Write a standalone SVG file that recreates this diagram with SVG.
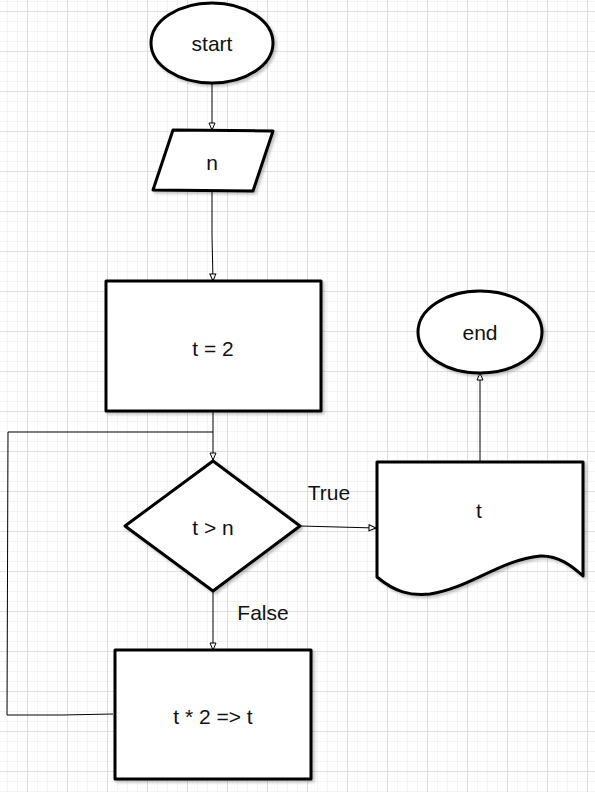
<svg xmlns="http://www.w3.org/2000/svg" width="595" height="792" viewBox="0 0 595 792">
<defs>
<pattern id="minor" x="7" y="1" width="10" height="10" patternUnits="userSpaceOnUse">
<path d="M0,0.5 H10 M0.5,0 V10" stroke="#f4f4f4" stroke-width="1" fill="none"/>
</pattern>
<pattern id="major" x="27" y="11" width="40" height="40" patternUnits="userSpaceOnUse">
<path d="M0,0.5 H40 M0.5,0 V40" stroke="#dedede" stroke-width="1" fill="none"/>
</pattern>
<marker id="arr" markerWidth="9" markerHeight="8" refX="8" refY="4" orient="auto" markerUnits="userSpaceOnUse">
<path d="M1,1 L8,4 L1,7 Z" fill="#fff" stroke="#000" stroke-width="1"/>
</marker>
<filter id="sh" x="-10%" y="-10%" width="130%" height="130%">
<feDropShadow dx="2" dy="2" stdDeviation="1.5" flood-color="#000" flood-opacity="0.25"/>
</filter>
</defs>
<style>
.shape{fill:#fff;stroke:#000;stroke-width:3;filter:url(#sh);stroke-linejoin:round}
.lbl{font-family:"Liberation Sans",Arial,sans-serif;font-size:21px;fill:#111;text-anchor:middle;dominant-baseline:central}
.edge{fill:none;stroke:#000;stroke-width:1}
</style>
<rect width="595" height="792" fill="#fff"/>
<rect width="595" height="792" fill="url(#minor)"/>
<rect width="595" height="792" fill="url(#major)"/>

<g id="connectors">
<path class="edge" d="M212,83 L212,130" marker-end="url(#arr)"/>
<path class="edge" d="M212,191 L212,236 L213,281" marker-end="url(#arr)"/>
<path class="edge" d="M213,411 L213,460" marker-end="url(#arr)"/>
<path class="edge" d="M113,714 L62,715 L7,715 L8,432 L213,432"/>
<path class="edge" d="M300,526 L338,527 L376,528" marker-end="url(#arr)"/>
<path class="edge" d="M213,591 L213,650" marker-end="url(#arr)"/>
<path class="edge" d="M480,461 L480,414 L480,373" marker-end="url(#arr)"/>
<text class="lbl" x="329" y="492">True</text>
<text class="lbl" x="263" y="612">False</text>
</g>

<g id="start">
<ellipse class="shape" cx="212" cy="43" rx="61" ry="40"/>
<text class="lbl" x="212" y="43">start</text>
</g>

<g id="input-n">
<path class="shape" d="M173,130 L273,131 L253,191 L153,190 Z"/>
<text class="lbl" x="212" y="162">n</text>
</g>

<g id="assign-t">
<rect class="shape" x="106" y="281" width="215" height="130"/>
<text class="lbl" x="213" y="348">t = 2</text>
</g>

<g id="decision">
<path class="shape" d="M213,461 L300,526 L213,591 L125,526 Z"/>
<text class="lbl" x="213" y="527">t &gt; n</text>
</g>

<g id="double-t">
<rect class="shape" x="115" y="650" width="196" height="129"/>
<text class="lbl" x="213" y="716">t * 2 =&gt; t</text>
</g>

<g id="output-t">
<path class="shape" d="M377,462 L583,462 L583,576 C572,566 558,555 540,556 C500,560 470,588 430,594 C410,596 395,592 377,577 Z"/>
<text class="lbl" x="479" y="510">t</text>
</g>

<g id="end">
<ellipse class="shape" cx="480" cy="332" rx="62" ry="41"/>
<text class="lbl" x="480" y="332">end</text>
</g>
</svg>
